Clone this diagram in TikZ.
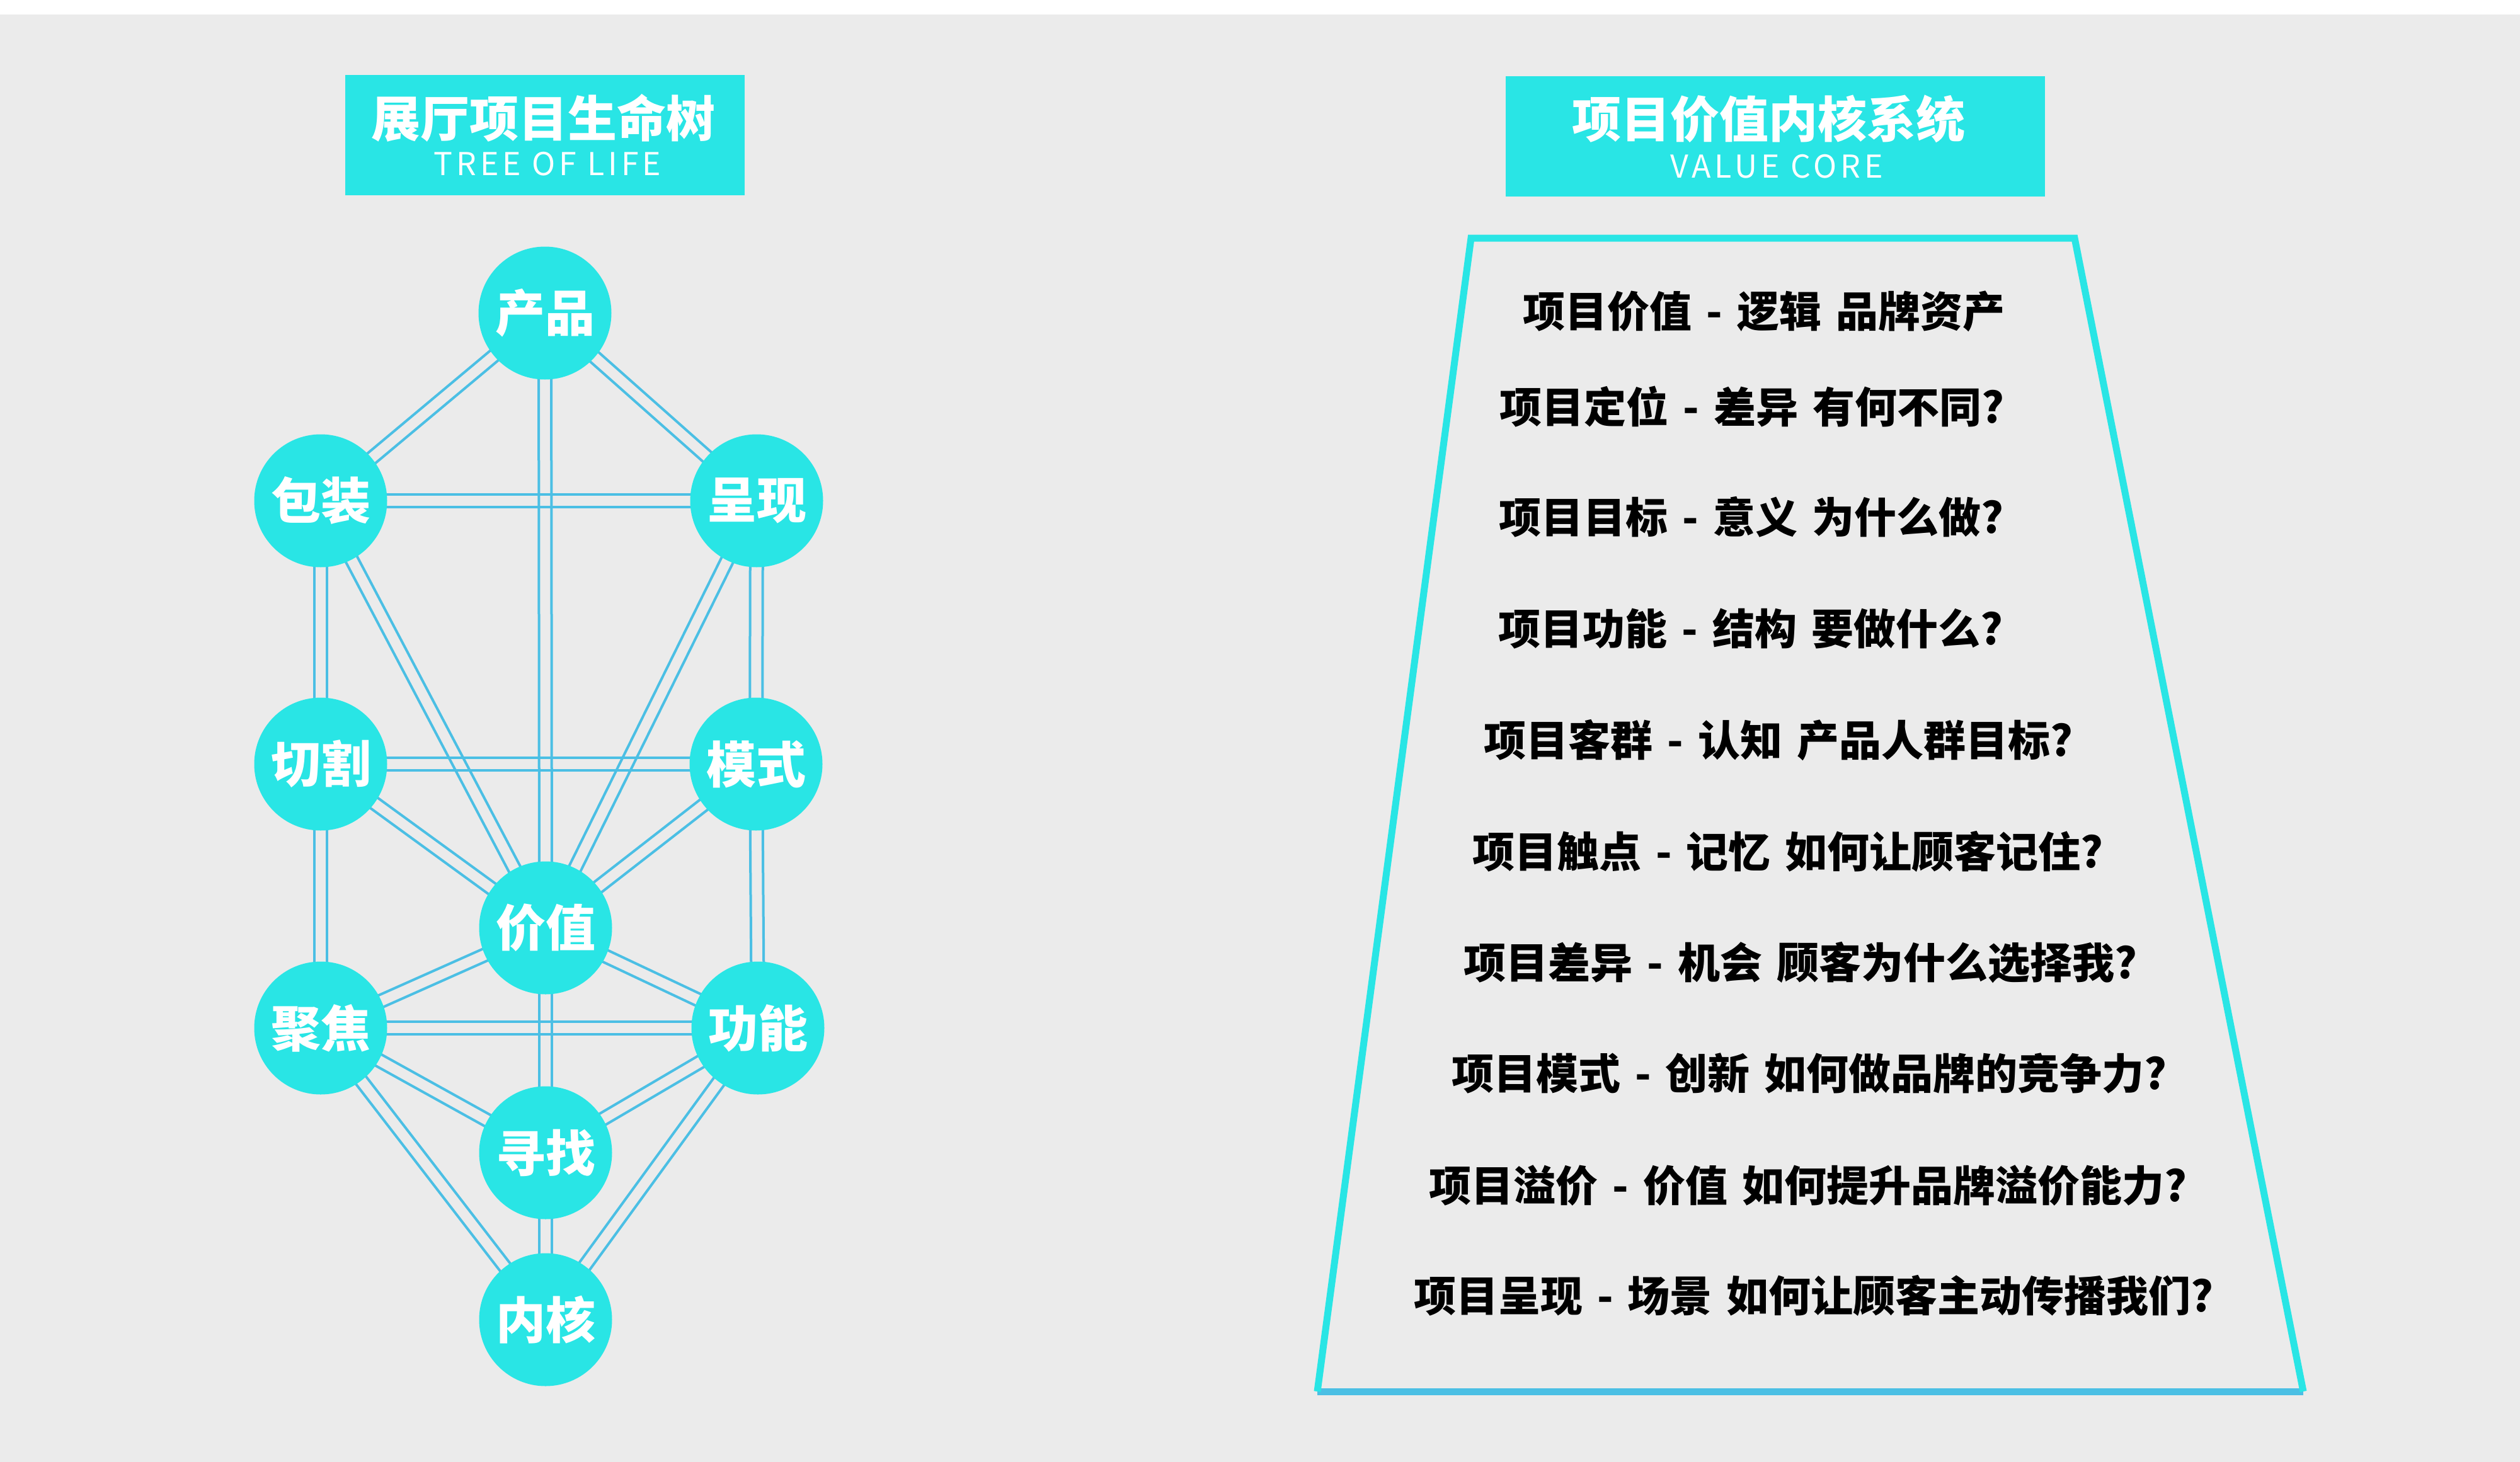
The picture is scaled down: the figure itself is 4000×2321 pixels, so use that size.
\documentclass[tikz,border=0pt]{standalone}
\usepackage{fontspec}
\usetikzlibrary{calc}
\newfontfamily\cjk{Noto Sans CJK SC}[WordSpace=1.5]
\newfontfamily\cjklat{Noto Sans CJK SC}[LetterSpace=12]
\definecolor{bggray}{HTML}{EBEBEB}
\definecolor{cyanfill}{HTML}{29E5E5}
\definecolor{linkblue}{HTML}{4BBFE4}
\pgfdeclarelayer{back}
\pgfdeclarelayer{lines}
\pgfsetlayers{back,lines,main}
\tikzset{
  ball/.style={circle, fill=cyanfill, minimum size=211pt, inner sep=0pt, text=white,
    font=\cjk\bfseries\fontsize{79}{79}\selectfont},
  link/.style={draw=linkblue, line width=4pt},
  titlebox/.style={fill=cyanfill, inner sep=0pt, anchor=north west},
  ttl/.style={text=white, inner sep=0pt, font=\cjk\bfseries\fontsize{78}{78}\selectfont},
  subttl/.style={text=white, inner sep=0pt, font=\cjklat\fontsize{50}{50}\selectfont},
  item/.style={text=black, inner sep=0pt, font=\cjk\bfseries\fontsize{67}{67}\selectfont},
  frame/.style={line width=11pt},
}
\newcommand\dblink[2]{%
  \draw[link] ($(#1)!10pt!90:(#2)$) -- ($(#2)!10pt!-90:(#1)$);
  \draw[link] ($(#1)!10pt!-90:(#2)$) -- ($(#2)!10pt!90:(#1)$);}
\begin{document}
\begin{tikzpicture}[x=1pt,y=-1pt]
\useasboundingbox (0,0) rectangle (4000,2321);
\begin{pgfonlayer}{back}
\fill[white] (0,0) rectangle (4000,2321);
\fill[bggray] (0,23) rectangle (4000,2321);
\end{pgfonlayer}

% left title
\node[titlebox, minimum width=634pt, minimum height=191pt] (lbox) at (548,119) {};
\node[ttl] (ltitle) at (862,187) {展厅项目生命树};
\node[subttl] (lsub) at (869,260) {TREE OF LIFE};

% tree nodes
\node[ball] (chanpin) at (865,497) {产品};
\node[ball] (baozhuang) at (509,795) {包装};
\node[ball] (chengxian) at (1201,795) {呈现};
\node[ball] (qiege) at (509,1213) {切割};
\node[ball] (moshi) at (1200,1213) {模式};
\node[ball] (jiazhi) at (866,1473) {价值};
\node[ball] (jujiao) at (509,1632) {聚焦};
\node[ball] (gongneng) at (1203,1632) {功能};
\node[ball] (xunzhao) at (866,1830) {寻找};
\node[ball] (neihe) at (866,2095) {内核};

\begin{pgfonlayer}{lines}
\dblink{chanpin}{baozhuang}
\dblink{chanpin}{chengxian}
\dblink{chanpin}{jiazhi}
\dblink{baozhuang}{chengxian}
\dblink{baozhuang}{qiege}
\dblink{chengxian}{moshi}
\dblink{baozhuang}{jiazhi}
\dblink{chengxian}{jiazhi}
\dblink{qiege}{moshi}
\dblink{qiege}{jiazhi}
\dblink{moshi}{jiazhi}
\dblink{qiege}{jujiao}
\dblink{moshi}{gongneng}
\dblink{jiazhi}{jujiao}
\dblink{jiazhi}{gongneng}
\dblink{jiazhi}{xunzhao}
\dblink{jujiao}{gongneng}
\dblink{jujiao}{xunzhao}
\dblink{gongneng}{xunzhao}
\dblink{jujiao}{neihe}
\dblink{gongneng}{neihe}
\dblink{xunzhao}{neihe}
\end{pgfonlayer}

% right title
\node[titlebox, minimum width=856pt, minimum height=191pt] (rbox) at (2390,121) {};
\node[ttl] (rtitle) at (2807,189) {项目价值内核系统};
\node[subttl] (rsub) at (2820,264) {VALUE CORE};

% trapezoid
\coordinate (tl) at (2335,378);
\coordinate (tr) at (3293,378);
\coordinate (br) at (3656,2209);
\coordinate (bl) at (2091,2209);
\draw[frame, draw=linkblue] (bl) -- (br);
\draw[frame, draw=cyanfill, line join=miter] (bl) -- (tl) -- (tr) -- (br);

\node[item] (t1) at (2800,494) {项目价值 - 逻辑 品牌资产};
\node[item] (t2) at (2781,646) {项目定位 - 差异 有何不同?};
\node[item] (t3) at (2780,821) {项目目标 - 意义 为什么做?};
\node[item] (t4) at (2779,998) {项目功能 - 结构 要做什么?};
\node[item] (t5) at (2823,1175) {项目客群 - 认知 产品人群目标?};
\node[item] (t6) at (2838,1352) {项目触点 - 记忆 如何让顾客记住?};
\node[item] (t7) at (2858,1528) {项目差异 - 机会 顾客为什么选择我?};
\node[item] (t8) at (2872,1704) {项目模式 - 创新 如何做品牌的竞争力?};
\node[item] (t9) at (2870,1882) {项目溢价 - 价值 如何提升品牌溢价能力?};
\node[item] (t10) at (2879,2057) {项目呈现 - 场景 如何让顾客主动传播我们?};
\end{tikzpicture}
\end{document}
